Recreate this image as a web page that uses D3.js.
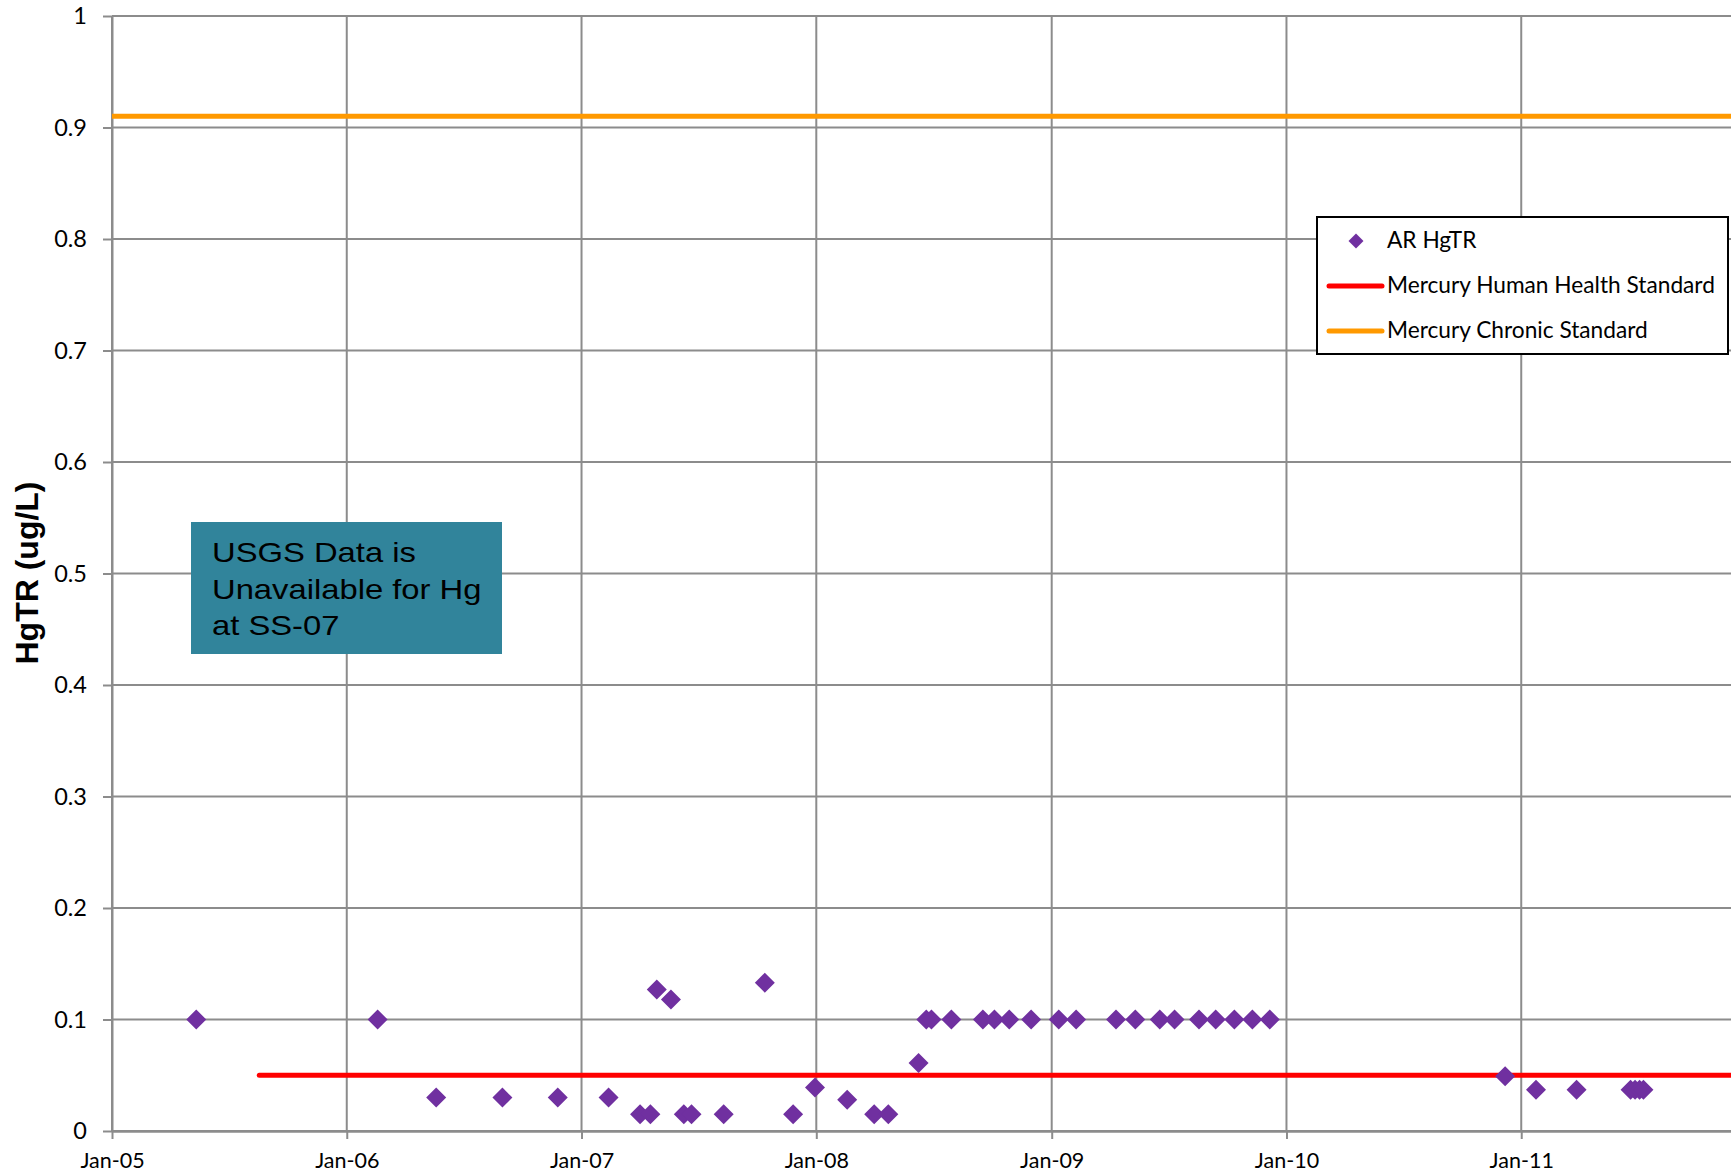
<!DOCTYPE html>
<html><head><meta charset="utf-8">
<script src="https://cdn.jsdelivr.net/npm/d3@7"></script>
<style>body{margin:0;background:#fff} svg{display:block}</style>
</head><body><svg id="c" width="1731" height="1176"></svg>
<script>
// ---- data ----
const sampleDates = [
  "2005-05-12","2006-02-18","2006-05-20","2006-08-31","2006-11-25",
  "2007-02-12","2007-04-02","2007-04-18","2007-04-28","2007-05-20",
  "2007-06-09","2007-06-21","2007-08-10","2007-10-13","2007-11-26",
  "2007-12-30","2008-02-18","2008-03-31","2008-04-22","2008-06-08",
  "2008-06-20","2008-06-28","2008-07-29","2008-09-16","2008-10-04",
  "2008-10-27","2008-11-30","2009-01-12","2009-02-08","2009-04-11",
  "2009-05-11","2009-06-18","2009-07-11","2009-08-18","2009-09-13",
  "2009-10-12","2009-11-09","2009-12-06","2010-12-07","2011-01-24",
  "2011-03-28","2011-06-20","2011-06-27","2011-07-04","2011-07-10"
];
const hgValues = [
  0.1, 0.1, 0.03, 0.03, 0.03,
  0.03, 0.015, 0.015, 0.127, 0.118,
  0.015, 0.015, 0.015, 0.133, 0.015,
  0.039, 0.028, 0.015, 0.015, 0.061,
  0.1, 0.1, 0.1, 0.1, 0.1,
  0.1, 0.1, 0.1, 0.1, 0.1,
  0.1, 0.1, 0.1, 0.1, 0.1,
  0.1, 0.1, 0.1, 0.049, 0.037,
  0.037, 0.037, 0.037, 0.037, 0.037
];
const xTickDates = ["2005-01-01","2006-01-01","2007-01-01","2008-01-01","2009-01-01","2010-01-01","2011-01-01"];
const xTickLabels = ["Jan-05","Jan-06","Jan-07","Jan-08","Jan-09","Jan-10","Jan-11"];
const xDomain = ["2005-01-01","2012-01-01"];
const yTickValues = [0,0.1,0.2,0.3,0.4,0.5,0.6,0.7,0.8,0.9,1];
const yTickLabels = ["0","0.1","0.2","0.3","0.4","0.5","0.6","0.7","0.8","0.9","1"];
const seriesName = "AR HgTR";
const standardNames = ["Mercury Human Health Standard","Mercury Chronic Standard"];
const standardValues = [0.05, 0.91];
const standardStarts = ["2005-08-18","2005-01-01"];
const standardEnds = ["2012-01-01","2012-01-01"];
const standardColors = ["#ff0000","#ff9900"];
const noteLines = ["USGS Data is","Unavailable for Hg","at SS-07"];
const yTitle = "HgTR (ug/L)";

// ---- layout ----
const parse = d3.timeParse("%Y-%m-%d");
const L = 112, T = 16, B = 1131, R = 1756;
const svg = d3.select("#c");
const x = d3.scaleTime().domain(xDomain.map(parse)).range([L, R]);
const y = d3.scaleLinear().domain([0, 1]).range([B, T]);
const gridColor = "#8c8c8c";
const calibri = "Lato, 'Open Sans', sans-serif";

// gridlines
const grid = svg.append("g");
grid.selectAll(".hg").data(yTickValues).enter().append("line")
  .attr("x1", L).attr("x2", 1731)
  .attr("y1", d => y(d)).attr("y2", d => y(d))
  .attr("stroke", gridColor).attr("stroke-width", 2);
grid.selectAll(".vg").data(xTickDates.map(parse)).enter().append("line")
  .attr("x1", d => x(d)).attr("x2", d => x(d))
  .attr("y1", T).attr("y2", B)
  .attr("stroke", gridColor).attr("stroke-width", 2);

// axes
const yAxis = d3.axisLeft(y).tickValues(yTickValues)
  .tickFormat((d, i) => yTickLabels[i]).tickSize(9).tickSizeOuter(0).tickPadding(16);
const gy = svg.append("g").attr("transform", `translate(${L},0)`).call(yAxis);
gy.select(".domain").attr("stroke", gridColor).attr("stroke-width", 2);
gy.selectAll(".tick line").attr("stroke", gridColor).attr("stroke-width", 2);
gy.selectAll(".tick text").attr("font-family", calibri).attr("font-size", 23.5).attr("fill", "#000");

const xAxis = d3.axisBottom(x).tickValues(xTickDates.map(parse))
  .tickFormat((d, i) => xTickLabels[i]).tickSize(8).tickSizeOuter(0).tickPadding(14);
const gx = svg.append("g").attr("transform", `translate(0,${B})`).call(xAxis);
gx.select(".domain").attr("stroke", gridColor).attr("stroke-width", 2.5);
gx.selectAll(".tick line").attr("stroke", gridColor).attr("stroke-width", 2);
gx.selectAll(".tick text").attr("font-family", calibri).attr("font-size", 21.5).attr("fill", "#000");

// y title
svg.append("text")
  .attr("transform", `translate(38,573) rotate(-90)`)
  .attr("text-anchor", "middle")
  .attr("font-family", "'Liberation Sans', Arial, sans-serif")
  .attr("font-weight", "bold").attr("font-size", 32)
  .text(yTitle);

// note box
const nb = svg.append("g");
nb.append("rect").attr("x", 191).attr("y", 522).attr("width", 311).attr("height", 132)
  .attr("fill", "#31849b");
nb.selectAll("text").data(noteLines).enter().append("text")
  .attr("transform", (d, i) => `translate(212,${562 + i * 36.6}) scale(1.17,1)`)
  .attr("font-family", "'Liberation Sans', Arial, sans-serif")
  .attr("font-size", 28).attr("fill", "#000")
  .text(d => d);

// standards
svg.selectAll(".std").data(standardValues).enter().append("line")
  .attr("x1", (d, i) => x(parse(standardStarts[i])))
  .attr("x2", (d, i) => x(parse(standardEnds[i])))
  .attr("y1", d => y(d)).attr("y2", d => y(d))
  .attr("stroke", (d, i) => standardColors[i]).attr("stroke-width", 5)
  .attr("stroke-linecap", (d, i) => i === 0 ? "round" : "butt");

// points
const diamond = d3.symbol(d3.symbolSquare, 200);
svg.append("g").selectAll("path").data(hgValues).enter().append("path")
  .attr("d", diamond)
  .attr("transform", (d, i) => `translate(${x(parse(sampleDates[i]))},${y(d)}) rotate(45)`)
  .attr("fill", "#7030a0");

// legend
const lg = svg.append("g");
lg.append("rect").attr("x", 1317).attr("y", 217).attr("width", 411).attr("height", 137)
  .attr("fill", "#fff").attr("stroke", "#000").attr("stroke-width", 2);
lg.append("path").attr("d", d3.symbol(d3.symbolSquare, 112))
  .attr("transform", "translate(1356,241) rotate(45)").attr("fill", "#7030a0");
const legendNames = [seriesName].concat(standardNames);
lg.selectAll("line").data(standardNames).enter().append("line")
  .attr("x1", 1329).attr("x2", 1382)
  .attr("y1", (d, i) => 286 + i * 45).attr("y2", (d, i) => 286 + i * 45)
  .attr("stroke", (d, i) => standardColors[i]).attr("stroke-width", 5)
  .attr("stroke-linecap", "round");
lg.selectAll("text").data(legendNames).enter().append("text")
  .attr("x", 1387).attr("y", (d, i) => 248 + i * 45)
  .attr("font-family", calibri).attr("font-size", 22.7).attr("fill", "#000")
  .text(d => d);
</script>
</body></html>
